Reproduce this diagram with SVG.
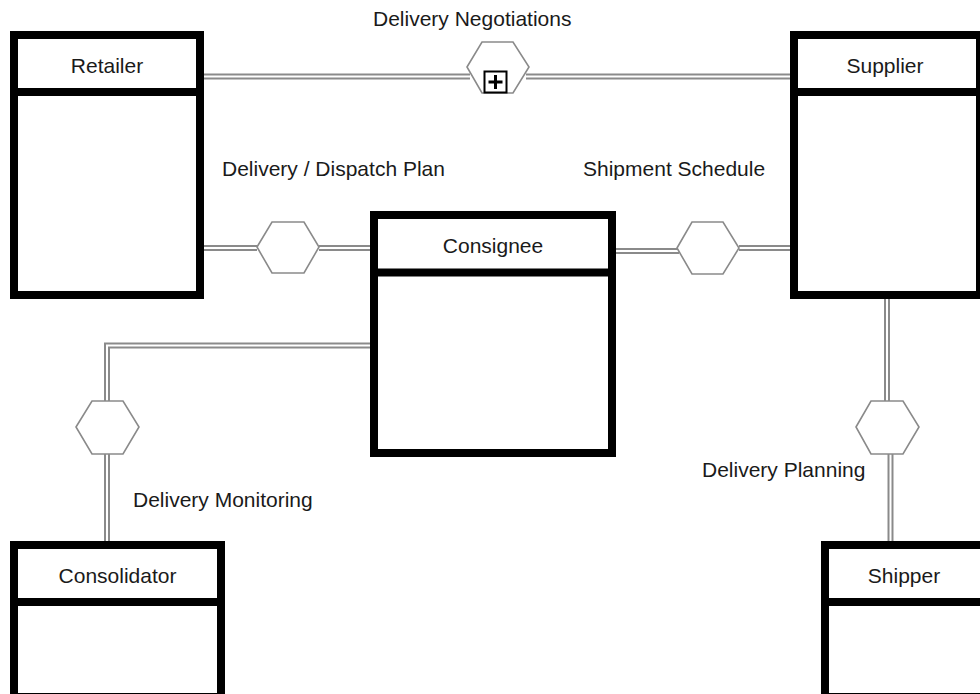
<svg xmlns="http://www.w3.org/2000/svg" width="980" height="694" viewBox="0 0 980 694">
<style>
.co{fill:none;stroke:#8a8a8a;stroke-width:6}
.ci{fill:none;stroke:#fff;stroke-width:2}
.box{fill:#fff;stroke:#000;stroke-width:8}
.div{stroke:#000;stroke-width:8}
.hex{fill:#fff;stroke:#8a8a8a;stroke-width:1.6}
.t{font-family:"Liberation Sans",Arial,sans-serif;font-size:21px;fill:#1a1a1a}
.m{text-anchor:middle}
</style>
<rect width="980" height="694" fill="#fff"/>
<g id="connectors">
<path class="co" d="M204,76.5 L470,76.5"/><path class="ci" d="M204,76.5 L470,76.5"/>
<path class="co" d="M526,76.5 L790,76.5"/><path class="ci" d="M526,76.5 L790,76.5"/>
<path class="co" d="M204,248 L257,248"/><path class="ci" d="M204,248 L257,248"/>
<path class="co" d="M319,248 L370,248"/><path class="ci" d="M319,248 L370,248"/>
<path class="co" d="M616,251 L679,251"/><path class="ci" d="M616,251 L679,251"/>
<path class="co" d="M739,248 L790,248"/><path class="ci" d="M739,248 L790,248"/>
<path class="co" d="M370,345.5 L107,345.5 L107,401"/><path class="ci" d="M370,345.5 L107,345.5 L107,401"/>
<path class="co" d="M107,454 L107,541"/><path class="ci" d="M107,454 L107,541"/>
<path class="co" d="M887,299 L887,401"/><path class="ci" d="M887,299 L887,401"/>
<path class="co" d="M890.5,454 L890.5,541"/><path class="ci" d="M890.5,454 L890.5,541"/>
</g>
<g id="retailer">
<rect class="box" x="14" y="35" width="186" height="260"/>
<line class="div" x1="10" y1="92" x2="204" y2="92"/>
<text class="t m" x="107" y="73">Retailer</text>
</g>
<g id="supplier">
<rect class="box" x="794" y="35" width="186" height="260"/>
<line class="div" x1="790" y1="92" x2="984" y2="92"/>
<text class="t m" x="885" y="73">Supplier</text>
</g>
<g id="consignee">
<rect class="box" x="374" y="215" width="238" height="238"/>
<line class="div" x1="370" y1="272.5" x2="616" y2="272.5"/>
<text class="t m" x="493" y="253">Consignee</text>
</g>
<g id="consolidator">
<rect class="box" x="14" y="545" width="207" height="152"/>
<line class="div" x1="10" y1="602" x2="225" y2="602"/>
<text class="t m" x="117.5" y="583">Consolidator</text>
</g>
<g id="shipper">
<rect class="box" x="825" y="545" width="170" height="152"/>
<line class="div" x1="821" y1="602" x2="999" y2="602"/>
<text class="t m" x="904" y="583">Shipper</text>
</g>
<g id="delivery-negotiations">
<polygon class="hex" points="467,67 482,42 513,42 529,67 513,93 482,93"/>
<rect x="484.5" y="71.5" width="22" height="21" fill="#fff" stroke="#000" stroke-width="2"/>
<path d="M495.5,75 V89 M488.5,82 H502.5" stroke="#000" stroke-width="3"/>
<text class="t" x="373" y="26">Delivery Negotiations</text>
</g>
<g id="delivery-dispatch-plan">
<polygon class="hex" points="257,247 272,222 304,222 319,247 304,273 272,273"/>
<text class="t" x="222" y="176">Delivery / Dispatch Plan</text>
</g>
<g id="shipment-schedule">
<polygon class="hex" points="677,248 692,222 723,222 739,248 723,274 692,274"/>
<text class="t" x="583" y="176">Shipment Schedule</text>
</g>
<g id="delivery-monitoring">
<polygon class="hex" points="76,427 92,401 123,401 139,427 123,454 92,454"/>
<text class="t" x="133" y="507">Delivery Monitoring</text>
</g>
<g id="delivery-planning">
<polygon class="hex" points="856,427 871,401 903,401 919,427 903,454 871,454"/>
<text class="t" x="702" y="477">Delivery Planning</text>
</g>
</svg>
